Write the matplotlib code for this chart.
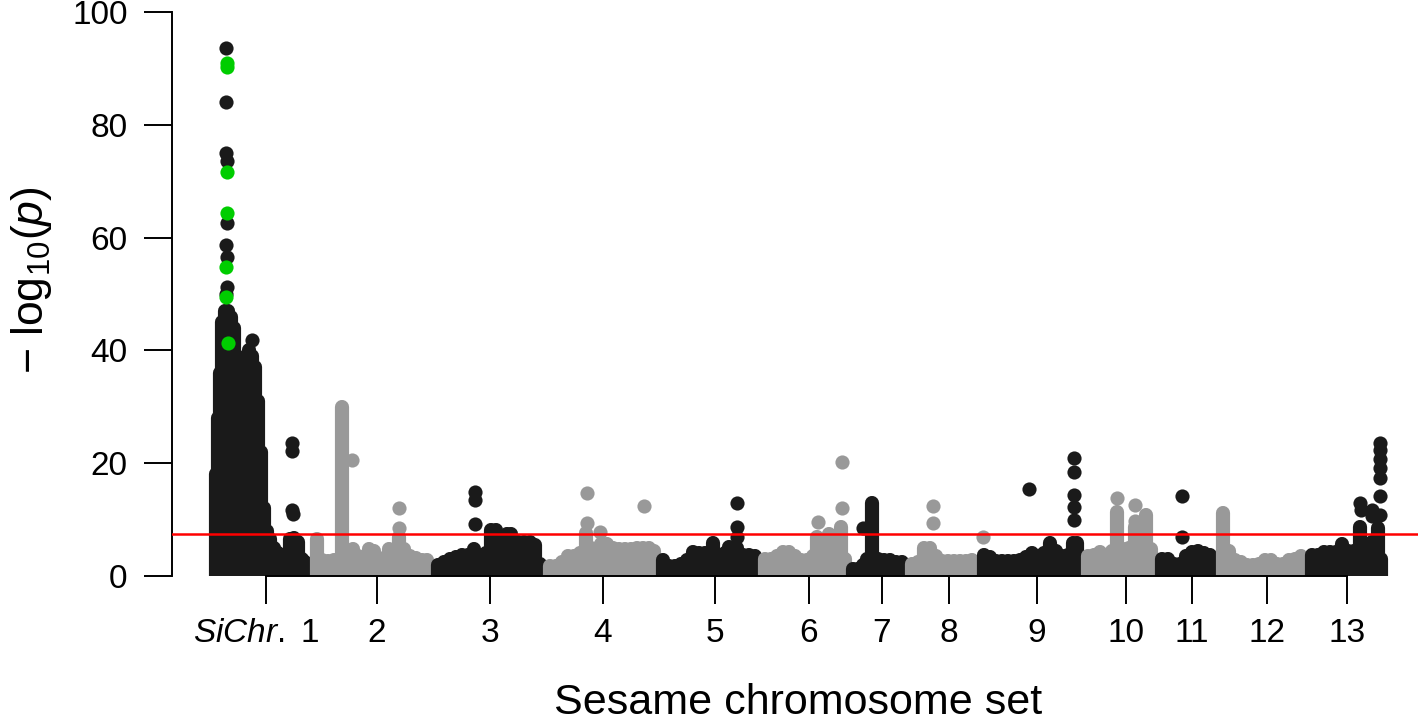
import matplotlib
matplotlib.use("Agg")
import matplotlib.pyplot as plt
from matplotlib.transforms import ScaledTranslation

plt.rcParams['font.family'] = ['Liberation Sans', 'DejaVu Sans']
plt.rcParams['mathtext.fontset'] = 'custom'
plt.rcParams['mathtext.rm'] = 'Liberation Sans'
plt.rcParams['mathtext.it'] = 'Liberation Sans:italic'

# cumulative genome position (arbitrary units), chromosomes 1..13
chrom_ticks = [66, 177, 290, 403, 515, 609, 682, 749, 837, 926, 992, 1067, 1147]
chrom_labels = [r'$\it{SiChr.}$ 1', '2', '3', '4', '5', '6', '7', '8', '9', '10', '11', '12', '13']

# dense SNP blocks: position and top -log10(p) of each block (block runs down to 0)
col_pos = [
    [16, 18, 20, 22, 25, 28, 31, 34, 37, 40, 43, 46, 49, 52, 55, 58, 61, 64, 67, 70,
     74, 78, 82, 86, 90, 94, 98, 102, 105],
    [117, 122, 128, 134, 142, 147, 153, 158, 163, 169, 174, 179, 184, 189, 194, 199,
     204, 210, 216, 222, 227],
    [238, 244, 250, 256, 262, 268, 274, 280, 286, 291, 296, 301, 307, 311, 318, 324,
     330, 335, 340],
    [350, 356, 362, 368, 374, 380, 386, 391, 396, 401, 407, 413, 419, 425, 431, 437,
     443, 449, 454],
    [463, 469, 475, 481, 487, 493, 499, 505, 513, 519, 525, 529, 537, 543, 549, 555],
    [565, 571, 577, 583, 589, 595, 601, 607, 613, 617, 623, 629, 635, 641, 645],
    [653, 658, 663, 667, 672, 678, 684, 690, 696, 702],
    [712, 718, 724, 730, 736, 742, 748, 754, 760, 766, 772],
    [784, 790, 796, 802, 808, 814, 820, 826, 832, 838, 844, 850, 856, 862, 868, 873, 877],
    [888, 894, 900, 906, 912, 917, 923, 929, 935, 941, 946, 951],
    [962, 968, 974, 980, 986, 992, 998, 1004, 1010],
    [1023, 1029, 1035, 1041, 1047, 1053, 1059, 1065, 1071, 1077, 1083, 1089, 1095, 1101],
    [1112, 1118, 1124, 1130, 1136, 1142, 1148, 1154, 1160, 1166, 1172, 1178, 1181],
]
col_top = [
    [18, 28, 36, 45, 47, 47, 46, 44, 38, 34, 37, 39, 40, 39, 37, 31, 22, 12, 8, 6.5,
     5, 4, 3, 3.5, 6.5, 6.8, 6, 3, 2.5],
    [6.6, 2.8, 2.6, 2.8, 29.9, 3.5, 4.7, 3.5, 3, 4.7, 4.5, 3, 3.2, 4.7, 4.5, 6.9,
     4.7, 3.5, 3.2, 2.9, 2.8],
    [2, 2.5, 3.1, 3.3, 3.8, 3.8, 4.7, 3.5, 4, 8.2, 8.2, 5, 7.5, 7.5, 6, 6, 6, 5.5, 2.2],
    [1.7, 1.7, 2.5, 3.5, 3.5, 4, 7.6, 5, 4.5, 5.6, 5.6, 5, 4.7, 4.7, 4.7, 4.9, 4.9, 4.9, 4.5],
    [2.9, 1.7, 1.7, 2.2, 2.8, 4.2, 4, 4, 5.8, 3.1, 4, 5.2, 5, 3.8, 3.8, 3.5],
    [3.1, 3.1, 3.5, 4.3, 4.3, 3.5, 2.9, 2.9, 3.5, 7.0, 3.8, 7.5, 3.8, 8.7, 3],
    [1.3, 1.3, 2, 3, 13.0, 3, 2.9, 2.9, 2.5, 2.5],
    [2.2, 2.5, 4.9, 4.9, 3.5, 2.6, 2.6, 2.6, 2.6, 2.6, 2.9],
    [3.8, 3.3, 2.6, 2.6, 2.6, 2.6, 2.8, 3.3, 4.0, 3.5, 4.0, 5.8, 4.5, 3.5, 3.8, 5.8, 5.8],
    [3.5, 3.8, 4.2, 3.8, 4.5, 11.4, 4.7, 5, 8.7, 5, 10.8, 4.7],
    [3.1, 3.1, 2.2, 2.2, 3.5, 4.3, 4.5, 4, 3.8],
    [11.1, 4.5, 2.9, 2.5, 2, 2, 2.2, 2.9, 2.9, 2.2, 2.2, 2.9, 3.1, 3.5],
    [3.8, 3.8, 4.3, 4.3, 4.3, 5.6, 4.5, 4.5, 8.7, 5, 6, 8.5, 3],
]

# single SNPs standing above the dense blocks
snp_pos = [
    [26, 26, 26, 27, 27, 26, 27, 27, 26, 52, 92, 92, 92, 93],
    [152, 199, 199],
    [275, 275, 275],
    [387, 387, 400, 444],
    [537, 537, 537],
    [618, 642, 642],
    [663],
    [733, 733, 783],
    [829, 874, 874, 874, 874, 874],
    [917, 935, 935],
    [982, 982],
    [],
    [1160, 1161, 1172, 1172, 1180, 1180, 1180, 1180, 1180, 1180, 1180],
]
snp_val = [
    [93.6, 84.0, 75.0, 73.6, 62.6, 58.7, 56.6, 51.2, 50.0, 41.8, 23.6, 22.2, 11.7, 11.0],
    [20.6, 12.1, 8.5],
    [14.9, 13.5, 9.2],
    [14.7, 9.4, 7.8, 12.5],
    [13.0, 8.7, 6.9],
    [9.6, 12.0, 20.2],
    [8.5],
    [12.4, 9.4, 7.0],
    [15.4, 21.0, 18.4, 14.4, 12.3, 9.9],
    [13.8, 12.6, 9.8],
    [14.2, 7.0],
    [],
    [12.9, 11.7, 11.7, 10.6, 23.6, 22.3, 20.7, 19.1, 17.3, 14.2, 10.8],
]

# highlighted SNPs (green)
lead_pos = [27, 27, 27, 27, 26, 26, 28]
lead_val = [91.0, 90.2, 71.6, 64.4, 54.8, 49.5, 41.3]

threshold = 7.4

chrom_colors = ['#1a1a1a', '#999999']
dot_pt = 10.2

fig = plt.figure(figsize=(14.18, 7.24), dpi=100)
ax = fig.add_axes([172 / 1418, 148 / 724, 1246 / 1418, 564 / 724])

for i in range(len(col_pos)):
    c = chrom_colors[i % 2]
    ax.vlines(col_pos[i], -3, col_top[i], colors=c, linewidth=dot_pt,
              capstyle='round', zorder=2)
    if snp_pos[i]:
        ax.scatter(snp_pos[i], snp_val[i], s=dot_pt ** 2, color=c,
                   linewidths=0, zorder=2)

ax.scatter(lead_pos, lead_val, s=dot_pt ** 2, color='#00cd00', linewidths=0, zorder=3)
ax.axhline(threshold, color='#ff0000', linewidth=1.8, zorder=4)

ax.set_xlim(-28, 1218)
ax.set_ylim(0, 100)

for s in ['top', 'right']:
    ax.spines[s].set_visible(False)
ax.spines['left'].set_bounds(0, 100)
ax.spines['bottom'].set_bounds(chrom_ticks[0], chrom_ticks[-1])
ax.spines['left'].set_linewidth(1.4)
ax.spines['bottom'].set_linewidth(1.4)

ax.set_yticks([0, 20, 40, 60, 80, 100])
ax.set_xticks(chrom_ticks)
ax.set_xticklabels(chrom_labels)
ax.tick_params(axis='y', length=20, width=1.4, pad=12, labelsize=24)
ax.tick_params(axis='x', length=20, width=1.4, pad=10, labelsize=24)

# the first label sits a little left of its tick
first = ax.get_xticklabels()[0]
first.set_transform(first.get_transform() + ScaledTranslation(-0.1, 0, fig.dpi_scale_trans))

fig.text(798 / 1418, 1 / 724, 'Sesame chromosome set', ha='center', va='bottom',
         fontsize=31)
fig.text(32 / 1418, 1 - 280 / 724, '\u2212 log$_{10}$($\\it{p}$)', ha='center', va='center',
         rotation=90, fontsize=32)

fig.savefig('out.png', dpi=100)
